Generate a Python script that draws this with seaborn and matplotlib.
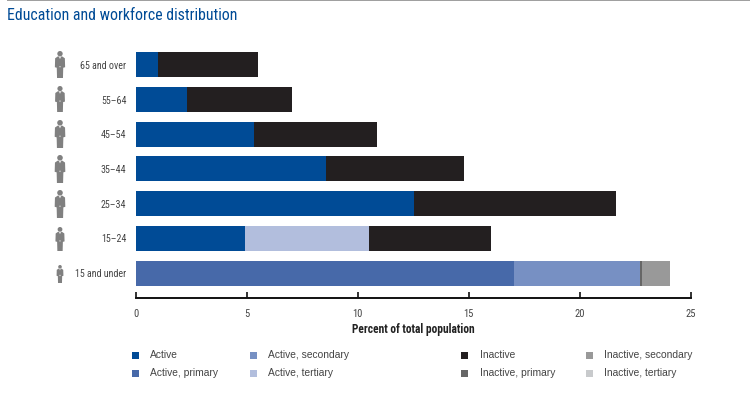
import numpy as np
import pandas as pd
import matplotlib
matplotlib.use("Agg")
import matplotlib.pyplot as plt
from matplotlib.patches import Circle, Polygon, Rectangle
from matplotlib.transforms import IdentityTransform
import seaborn as sns

# -----------------------------------------------------
# data
# -----------------------------------------------------
ages = ["65 and over", "55–64", "45–54", "35–44", "25–34", "15–24", "15 and under"]

active = [1.0, 2.3, 5.35, 8.6, 12.55, 4.95, 0]
active_primary = [0, 0, 0, 0, 0, 0, 17.06]
active_secondary = [0, 0, 0, 0, 0, 0, 5.67]
active_tertiary = [0, 0, 0, 0, 0, 5.55, 0]
inactive = [4.5, 4.75, 5.55, 6.2, 9.1, 5.5, 0]
inactive_primary = [0, 0, 0, 0, 0, 0, 0.1]
inactive_secondary = [0, 0, 0, 0, 0, 0, 1.26]
inactive_tertiary = [0, 0, 0, 0, 0, 0, 0]

xticks = [0, 5, 10, 15, 20, 25]

df = pd.DataFrame({
    "Active": active,
    "Active, primary": active_primary,
    "Active, secondary": active_secondary,
    "Active, tertiary": active_tertiary,
    "Inactive": inactive,
    "Inactive, primary": inactive_primary,
    "Inactive, secondary": inactive_secondary,
    "Inactive, tertiary": inactive_tertiary,
}, index=ages)

colors = {
    "Active": "#004b96",
    "Active, primary": "#4769a9",
    "Active, secondary": "#7790c3",
    "Active, tertiary": "#b2bedd",
    "Inactive": "#231f20",
    "Inactive, primary": "#666666",
    "Inactive, secondary": "#999999",
    "Inactive, tertiary": "#c8cacc",
}

# order of the segments inside a bar, left to right
stack_order = ["Active", "Active, primary", "Active, secondary", "Active, tertiary",
               "Inactive", "Inactive, primary", "Inactive, secondary", "Inactive, tertiary"]

# -----------------------------------------------------
# figure, all placing is in pixels of the 750x393 picture
# -----------------------------------------------------
W, H = 750, 393
sns.set_theme(style="white")
plt.rcParams["font.family"] = ["Liberation Sans", "DejaVu Sans"]
NARROW = ["Roboto Condensed", "Liberation Sans", "DejaVu Sans"]
TEXT = "#444444"

fig = plt.figure(figsize=(W / 100, H / 100), dpi=100)
top, bottom = 47.4, 297.5
ax = fig.add_axes([135.5 / W, 1 - bottom / H, 555 / W, (bottom - top) / H])

# -----------------------------------------------------
# stacked bars: running totals drawn from longest to shortest
# -----------------------------------------------------
totals = df[stack_order].cumsum(axis=1)
for name in reversed(stack_order):
    sns.barplot(x=totals[name].values, y=ages, order=ages, color=colors[name],
                saturation=1, width=0.72, linewidth=0, ax=ax)

ax.set_xlim(0, 25)
ax.set_ylim(6.70, -0.5)
ax.set_xticks(xticks)
ax.tick_params(axis="x", direction="in", length=4, width=1.2, color="#111111",
               pad=8, labelcolor=TEXT, bottom=True)
ax.tick_params(axis="y", length=0, pad=6.5, labelcolor=TEXT)
for lab in ax.get_xticklabels():
    lab.set_family(NARROW)
    lab.set_fontsize(7.6)
for lab in ax.get_yticklabels():
    lab.set_family(NARROW)
    lab.set_fontsize(7.2)
for side in ["top", "left", "right"]:
    ax.spines[side].set_visible(False)
ax.spines["bottom"].set_color("#111111")
ax.spines["bottom"].set_linewidth(1.4)
ax.set_xlabel("Percent of total population", fontsize=8.3, fontweight="bold",
              family=NARROW, color="#222222", labelpad=3.5)
ax.set_ylabel("")

# -----------------------------------------------------
# title and rule on top
# -----------------------------------------------------
fig.text(7 / W, 1 - 15.5 / H, "Education and workforce distribution", fontsize=11.4,
         family=NARROW, color="#004b96", va="center", ha="left")
fig.add_artist(Rectangle((7 / W, 1 - 1 / H), 1 - 7 / W, 1 / H, transform=fig.transFigure,
                         color="#a0a0a0", lw=0))

# -----------------------------------------------------
# person icons
# -----------------------------------------------------
def draw_person(cx, y0, y1):
    h = y1 - y0
    # outline in units of icon height
    shape = [(-0.08, 0.2), (0.08, 0.2), (0.18, 0.27), (0.19, 0.6), (0.12, 0.62),
             (0.11, 1.0), (-0.11, 1.0), (-0.12, 0.62), (-0.19, 0.6), (-0.18, 0.27)]
    pts = [(cx + a * h, H - (y0 + b * h)) for a, b in shape]
    fig.add_artist(Polygon(pts, closed=True, transform=IdentityTransform(),
                           color="#808080", lw=0))
    r = 0.1 * h
    fig.add_artist(Circle((cx, H - (y0 + r)), r, transform=IdentityTransform(),
                          color="#808080", lw=0))
    # white collar and a small waist spot
    shirt = [(cx + a * h, H - (y0 + b * h)) for a, b in [(-0.05, 0.2), (0.05, 0.2), (0, 0.3)]]
    fig.add_artist(Polygon(shirt, closed=True, transform=IdentityTransform(),
                           color="#e8e8e8", lw=0))
    fig.add_artist(Circle((cx, H - (y0 + 0.58 * h)), 0.7, transform=IdentityTransform(),
                          color="#d8d8d8", lw=0))

icon_spans = [(51, 78), (86, 112), (120, 148), (155, 183), (190, 218), (227, 251), (265, 283)]
for y0, y1 in icon_spans:
    draw_person(60, y0, y1)

# -----------------------------------------------------
# legend, columns are not evenly spaced so placed by hand
# -----------------------------------------------------
legend_cols = [
    (135, ["Active", "Active, primary"]),
    (253, ["Active, secondary", "Active, tertiary"]),
    (465, ["Inactive", "Inactive, primary"]),
    (589, ["Inactive, secondary", "Inactive, tertiary"]),
]
for x_px, names in legend_cols:
    for y_px, name in zip([355.5, 373.5], names):
        fig.add_artist(Rectangle(((x_px - 3.5) / W, 1 - (y_px + 3.5) / H), 7 / W, 7 / H,
                                 transform=fig.transFigure, color=colors[name], lw=0))
        fig.text((x_px + 15) / W, 1 - y_px / H, name, fontsize=7.4, color=TEXT,
                 va="center", ha="left")

fig.savefig("out.png", dpi=100)
